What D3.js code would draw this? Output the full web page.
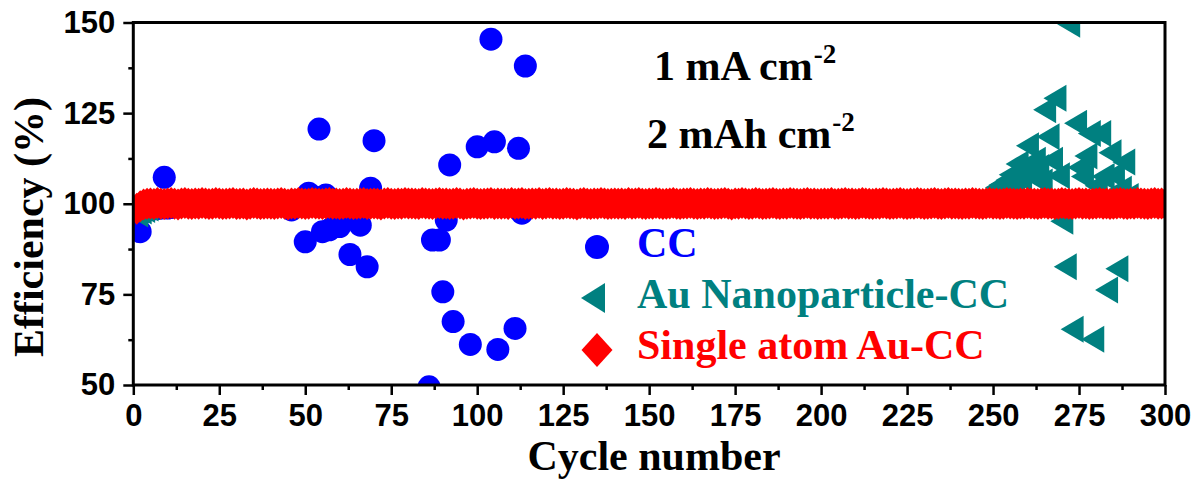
<!DOCTYPE html>
<html>
<head>
<meta charset="utf-8">
<script src="https://cdn.jsdelivr.net/npm/d3@7"></script>
<style>
  html, body { margin: 0; padding: 0; background: #ffffff; }
  svg { display: block; }
</style>
</head>
<body>
<svg id="chart" width="1202" height="483"></svg>
<script>
// Axis ticks
const xMajorTicks = [0, 25, 50, 75, 100, 125, 150, 175, 200, 225, 250, 275, 300];
const yMajorTicks = [50, 75, 100, 125, 150];

// Coulombic efficiency (%) per cycle, cycle n = index + 1
const ccValues = [
  97.0, 92.3, 97.6, 98.2, 98.5, 98.6, 98.7, 98.8, 107.3, 98.8, 99.0, 99.4,
  100.2, 100.0, 99.8, 100.3, 100.1, 100.4, 99.9, 100.2, 100.0, 100.3, 100.1, 99.8, 100.2, 100.4, 100.0, 99.9,
  100.3, 100.1, 100.2, 99.8, 100.0, 100.3, 100.1, 99.9, 100.2, 100.4, 100.0, 100.1, 99.8, 100.2, 100.0, 100.3,
  99.5, 98.3, 100.5, 101.0, 100.2, 89.5, 102.9, 101.5, 101.8, 120.6, 92.3, 102.4, 92.8, 93.5, 99.0, 93.7,
  95.5, 99.5, 86.0, 97.5, 100.2, 94.1, 99.4, 82.6, 104.3, 117.4, 100.5,
  100.2, 99.9, 100.3, 100.0, 100.4, 100.1, 99.8, 100.2, 100.0, 100.3, 99.9, 100.1, 100.4, 100.0,
  49.5, 90.0, 100.3, 90.0, 75.7, 95.5, 110.7, 67.5, 100.2, 99.7, 100.2, 99.6, 61.2, 100.0, 115.7,
  100.2, 99.6, 100.1, 145.4, 117.1, 59.8, 100.5, 99.8, 100.0, 100.3, 65.6, 115.3, 97.4, 138.0, 100.1
];

const auNpValues = [
  97.2, 98.0, 98.4, 98.8, 99.3,
  100.1, 100.2, 100.0, 100.1, 100.3, 100.2, 100.1, 100.0, 100.2, 100.1, 100.2, 100.3, 100.1, 100.0, 100.2, 100.1, 100.2, 100.1, 100.0, 100.2,
  100.2, 100.1, 100.3, 100.0, 100.1, 100.2, 100.1, 100.3, 100.2, 100.0, 100.1, 100.2, 100.1, 100.0, 100.3, 100.2, 100.1, 100.2, 100.0, 100.1,
  100.0, 100.2, 100.1, 100.2, 100.3, 100.1, 100.0, 100.2, 100.1, 100.3, 100.2, 100.0, 100.1, 100.2, 100.1, 100.0, 100.2, 100.3, 100.1, 100.2,
  100.1, 100.0, 100.2, 100.3, 100.1, 100.2, 100.0, 100.1, 100.2, 100.1, 100.3, 100.2, 100.0, 100.1, 100.2, 100.0, 100.1, 100.3, 100.2, 100.1,
  100.2, 100.1, 100.0, 100.2, 100.1, 100.3, 100.2, 100.1, 100.0, 100.2, 100.1, 100.2, 100.3, 100.0, 100.1, 100.2, 100.1, 100.0, 100.2, 100.3,
  100.1, 100.2, 100.1, 100.0, 100.2, 100.3, 100.1, 100.2, 100.0, 100.1, 100.2, 100.1, 100.0, 100.3, 100.2, 100.1, 100.2, 100.0, 100.1, 100.2,
  100.3, 100.1, 100.2, 100.0, 100.1, 100.2, 100.1, 100.3, 100.0, 100.2, 100.1, 100.0, 100.2, 100.1, 100.3, 100.2, 100.0, 100.1, 100.2, 100.1,
  100.0, 100.1, 100.2, 100.3, 100.1, 100.0, 100.2, 100.1, 100.2, 100.0, 100.3, 100.1, 100.2, 100.1, 100.0, 100.2, 100.3, 100.1, 100.0, 100.2,
  100.2, 100.0, 100.1, 100.2, 100.3, 100.1, 100.2, 100.0, 100.1, 100.2, 100.1, 100.3, 100.0, 100.2, 100.1, 100.0, 100.2, 100.1, 100.3, 100.2,
  100.1, 100.3, 100.2, 100.0, 100.1, 100.2, 100.0, 100.1, 100.3, 100.2, 100.1, 100.0, 100.2, 100.1, 100.2, 100.3, 100.0, 100.1, 100.2, 100.1,
  100.2, 100.1, 100.0, 100.3, 100.2, 100.1, 100.2, 100.0, 100.1, 100.2, 100.3, 100.1, 100.0, 100.2, 100.1, 100.2, 100.0, 100.3, 100.1, 100.2,
  100.0, 100.2, 100.1, 100.2, 100.0, 100.3, 100.1, 100.2, 100.1, 100.0, 100.2, 100.1, 100.3, 100.2, 100.0, 100.1, 100.2, 100.1, 100.0, 100.2,
  100.4, 100.8, 101.5, 102.2,
  103.0, 104.5, 105.2, 104.0, 106.5, 108.0, 106.0, 111.0, 107.0, 109.0, 116.0, 108.0, 112.0, 110.0, 106.0,
  125.9, 118.5, 112.0, 129.1, 107.7, 95.2, 82.6, 149.5, 65.4, 122.2, 110.0, 107.5, 113.2, 119.4, 62.6,
  105.0, 119.4, 107.5, 76.2, 114.1, 107.9, 82.1, 104.0, 111.5, 102.0, 100.5
];

const singleAtomValues = [
  98.6, 99.3, 99.8, 100.0, 100.1, 99.9, 100.2, 100.0, 99.9, 100.1, 100.2, 100.0, 99.8, 100.1, 100.2, 100.0, 99.9, 100.1, 100.0, 100.2,
  100.1, 99.9, 100.0, 100.2, 100.1, 99.9, 100.0, 100.1, 100.2, 99.9, 100.0, 100.1, 99.8, 100.0, 100.2, 100.1, 99.9, 100.0, 100.1, 100.0,
  99.9, 100.1, 100.2, 100.0, 99.8, 100.1, 100.0, 100.2, 100.1, 99.9, 100.0, 100.2, 100.1, 100.0, 99.9, 100.1, 100.2, 100.0, 100.1, 99.9,
  100.0, 100.2, 100.1, 99.9, 100.0, 100.1, 100.2, 99.9, 100.0, 100.1, 100.0, 99.8, 100.1, 100.2, 100.0, 99.9, 100.1, 100.0, 100.2, 100.1,
  100.1, 100.0, 99.9, 100.2, 100.1, 100.0, 99.9, 100.1, 100.2, 100.0, 100.1, 99.9, 100.0, 100.2, 100.1, 99.8, 100.0, 100.1, 100.2, 100.0,
  99.9, 100.0, 100.1, 100.2, 99.9, 100.1, 100.0, 100.1, 99.9, 100.2, 100.0, 100.1, 100.2, 99.9, 100.0, 100.1, 100.0, 100.2, 99.9, 100.1,
  100.2, 100.0, 100.1, 99.9, 100.0, 100.2, 100.1, 100.0, 99.8, 100.1, 100.2, 100.0, 99.9, 100.1, 100.0, 100.2, 100.1, 99.9, 100.0, 100.1,
  100.0, 100.1, 99.9, 100.2, 100.0, 100.1, 100.2, 100.0, 99.9, 100.1, 100.0, 100.2, 100.1, 99.9, 100.0, 100.1, 100.2, 100.0, 99.9, 100.1,
  100.1, 100.2, 100.0, 99.9, 100.1, 100.0, 100.2, 100.1, 99.9, 100.0, 100.1, 100.2, 100.0, 99.8, 100.1, 100.0, 100.2, 100.1, 99.9, 100.0,
  100.2, 100.1, 99.9, 100.0, 100.1, 100.2, 100.0, 99.9, 100.1, 100.0, 100.2, 100.1, 100.0, 99.9, 100.1, 100.2, 100.0, 100.1, 99.9, 100.0,
  100.1, 100.0, 100.2, 99.9, 100.0, 100.1, 100.2, 100.0, 100.1, 99.9, 100.0, 100.2, 100.1, 100.0, 99.9, 100.1, 100.0, 100.2, 100.1, 99.9,
  100.0, 100.1, 100.2, 100.0, 99.9, 100.1, 100.0, 100.2, 100.1, 99.9, 100.0, 100.1, 100.2, 100.0, 99.9, 100.1, 100.2, 100.0, 100.1, 100.0,
  99.9, 100.1, 100.0, 100.2, 100.1, 100.0, 99.9, 100.1, 100.2, 100.0, 100.1, 99.9, 100.0, 100.2, 100.1, 100.0, 99.9, 100.1, 100.0, 100.2,
  100.1, 100.0, 99.9, 100.1, 100.2, 100.0, 100.1, 99.9, 100.0, 100.2, 100.1, 100.0, 99.9, 100.1, 100.2, 100.0, 100.1, 99.9, 100.0, 100.1,
  100.2, 100.0, 100.1, 99.9, 100.0, 100.1, 100.2, 100.0, 99.9, 100.1, 100.0, 100.2, 100.1, 100.0, 99.9, 100.1, 100.2, 100.0, 100.1, 100.0
];

const seriesNames = ["CC", "Au Nanoparticle-CC", "Single atom Au-CC"];
const seriesColors = ["#0000ff", "#008080", "#ff0000"];

const SERIF = "'Liberation Serif', 'Times New Roman', serif";
const SANS = "'Liberation Sans', Arial, sans-serif";

// Plot frame
const plot = { left: 133.3, right: 1165, top: 22.5, bottom: 385 };

const x = d3.scaleLinear().domain([0, 300]).range([plot.left, plot.right]);
const y = d3.scaleLinear().domain([50, 150]).range([plot.bottom, plot.top]);

const svg = d3.select("#chart");
svg.append("rect").attr("width", 1202).attr("height", 483).attr("fill", "#ffffff");

svg.append("defs").append("clipPath").attr("id", "plot-clip")
  .append("rect")
  .attr("x", plot.left).attr("y", plot.top)
  .attr("width", plot.right - plot.left).attr("height", plot.bottom - plot.top);

// Marker shapes
function leftTriangle(w, h) {
  return { draw(ctx) { ctx.moveTo(-w / 2, 0); ctx.lineTo(w / 2, -h / 2); ctx.lineTo(w / 2, h / 2); ctx.closePath(); } };
}
function diamond(w, h) {
  return { draw(ctx) { ctx.moveTo(0, -h / 2); ctx.lineTo(w / 2, 0); ctx.lineTo(0, h / 2); ctx.lineTo(-w / 2, 0); ctx.closePath(); } };
}
function circle(r) {
  return { draw(ctx) { ctx.moveTo(r, 0); ctx.arc(0, 0, r, 0, 2 * Math.PI); } };
}

const toPoints = vals => vals.map((v, i) => ({ cycle: i + 1, value: v }));

const marks = svg.append("g").attr("clip-path", "url(#plot-clip)");

function drawSeries(vals, shape, color) {
  marks.append("g").selectAll("path")
    .data(toPoints(vals))
    .join("path")
    .attr("d", d3.symbol().type(shape))
    .attr("transform", d => `translate(${x(d.cycle)},${y(d.value)})`)
    .attr("fill", color);
}

drawSeries(ccValues, circle(11.5), seriesColors[0]);
drawSeries(auNpValues, leftTriangle(23, 27), seriesColors[1]);
drawSeries(singleAtomValues, diamond(30, 32), seriesColors[2]);

// Axes
const xMinor = d3.range(12.5, 300, 25);
const yMinor = d3.range(62.5, 150, 25);

svg.append("g").attr("transform", `translate(0,${plot.bottom})`)
  .call(d3.axisBottom(x).tickValues(xMajorTicks).tickFormat(d3.format("d")).tickSize(10).tickPadding(9).tickSizeOuter(0));
svg.append("g").attr("transform", `translate(0,${plot.bottom})`)
  .call(d3.axisBottom(x).tickValues(xMinor).tickFormat("").tickSize(5).tickSizeOuter(0));

svg.append("g").attr("transform", `translate(${plot.left},0)`)
  .call(d3.axisLeft(y).tickValues(yMajorTicks).tickFormat(d3.format("d")).tickSize(10).tickPadding(8).tickSizeOuter(0));
svg.append("g").attr("transform", `translate(${plot.left},0)`)
  .call(d3.axisLeft(y).tickValues(yMinor).tickFormat("").tickSize(5).tickSizeOuter(0));

svg.selectAll(".domain").remove();
svg.selectAll(".tick line").attr("stroke", "#000").attr("stroke-width", 2.5);
svg.selectAll(".tick text")
  .attr("fill", "#000")
  .style("font-family", SANS)
  .style("font-weight", "bold")
  .style("font-size", "31px");

svg.append("rect")
  .attr("x", plot.left).attr("y", plot.top)
  .attr("width", plot.right - plot.left).attr("height", plot.bottom - plot.top)
  .attr("fill", "none").attr("stroke", "#000").attr("stroke-width", 3);

// Axis titles
svg.append("text")
  .attr("x", 654).attr("y", 470)
  .attr("text-anchor", "middle")
  .style("font-family", SERIF).style("font-weight", "bold").style("font-size", "42px")
  .attr("fill", "#000")
  .text("Cycle number");

svg.append("text")
  .attr("transform", "translate(43,227) rotate(-90)")
  .attr("text-anchor", "middle")
  .style("font-family", SERIF).style("font-weight", "bold").style("font-size", "42px")
  .attr("fill", "#000")
  .text("Efficiency (%)");

// Test conditions
function condition(xPos, yPos, main) {
  const t = svg.append("text")
    .attr("x", xPos).attr("y", yPos)
    .style("font-family", SERIF).style("font-weight", "bold").style("font-size", "42px")
    .attr("fill", "#000");
  t.append("tspan").text(main);
  t.append("tspan").attr("dx", 1).attr("dy", -17).style("font-size", "27px").text("-2");
}
condition(654, 80, "1 mA cm");
condition(647, 148, "2 mAh cm");

// Legend
const legendShapes = [circle(12), leftTriangle(24, 30), diamond(31, 34)];
const legendSymbolX = [597, 593, 597];
const legendRowY = [247, 298, 350];
const legendBaseline = [257, 308, 359];

seriesNames.forEach((name, i) => {
  svg.append("path")
    .attr("d", d3.symbol().type(legendShapes[i])())
    .attr("transform", `translate(${legendSymbolX[i]},${legendRowY[i]})`)
    .attr("fill", seriesColors[i]);
  svg.append("text")
    .attr("x", 637).attr("y", legendBaseline[i])
    .style("font-family", SERIF).style("font-weight", "bold").style("font-size", "42px")
    .attr("fill", seriesColors[i])
    .text(name);
});
</script>
</body>
</html>
